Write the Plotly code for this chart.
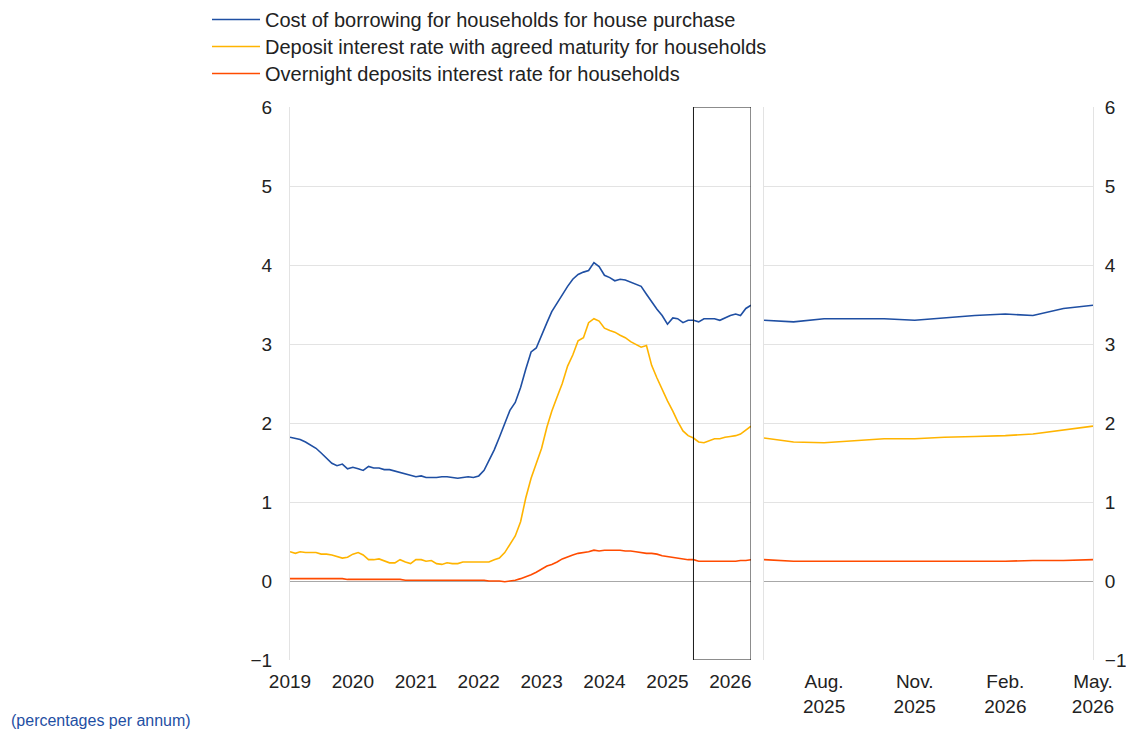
import pandas as pd
import plotly.graph_objects as go

# ---- data (monthly, Jan 2019 - May 2026) ----
start_month = "2019-01-01"
n_months = 89
zoom_start = "2025-06-01"

series_names = [
    "Cost of borrowing for households for house purchase",
    "Deposit interest rate with agreed maturity for households",
    "Overnight deposits interest rate for households",
]
series_colors = ["#1f4fa3", "#ffb400", "#ff4b00"]

cost_of_borrowing = [
    1.82, 1.80, 1.79, 1.76, 1.72, 1.68, 1.62, 1.55, 1.49, 1.46, 1.48, 1.42,
    1.44, 1.42, 1.40, 1.45, 1.43, 1.43, 1.41, 1.41, 1.39, 1.38, 1.36, 1.34,
    1.32, 1.33, 1.31, 1.31, 1.31, 1.32, 1.32, 1.31, 1.30, 1.31, 1.32, 1.31,
    1.33, 1.40, 1.52, 1.66, 1.82, 2.00, 2.16, 2.26, 2.45, 2.68, 2.90, 2.95,
    3.12, 3.27, 3.41, 3.52, 3.62, 3.73, 3.82, 3.88, 3.91, 3.93, 4.03, 3.98,
    3.87, 3.84, 3.80, 3.82, 3.81, 3.78, 3.75, 3.73, 3.63, 3.53, 3.44, 3.36,
    3.25, 3.33, 3.32, 3.27, 3.30, 3.30, 3.28, 3.32, 3.32, 3.32, 3.30, 3.33,
    3.36, 3.38, 3.36, 3.45, 3.49,
]
deposit_agreed_maturity = [
    0.37, 0.35, 0.37, 0.36, 0.36, 0.36, 0.34, 0.34, 0.33, 0.31, 0.29, 0.30,
    0.34, 0.36, 0.33, 0.27, 0.27, 0.28, 0.26, 0.23, 0.23, 0.27, 0.24, 0.22,
    0.27, 0.27, 0.25, 0.26, 0.22, 0.21, 0.23, 0.22, 0.22, 0.24, 0.24, 0.24,
    0.24, 0.24, 0.24, 0.27, 0.29, 0.36, 0.47, 0.57, 0.75, 1.05, 1.30, 1.50,
    1.68, 1.95, 2.15, 2.33, 2.50, 2.72, 2.86, 3.04, 3.08, 3.27, 3.32, 3.29,
    3.20, 3.17, 3.15, 3.11, 3.08, 3.03, 3.00, 2.96, 2.98, 2.73, 2.57, 2.42,
    2.28, 2.15, 2.02, 1.90, 1.84, 1.81, 1.76, 1.75, 1.78, 1.80, 1.80, 1.82,
    1.83, 1.84, 1.86, 1.91, 1.96,
]
overnight_deposits = [
    0.03, 0.03, 0.03, 0.03, 0.03, 0.03, 0.03, 0.03, 0.03, 0.03, 0.03, 0.02,
    0.02, 0.02, 0.02, 0.02, 0.02, 0.02, 0.02, 0.02, 0.02, 0.02, 0.01, 0.01,
    0.01, 0.01, 0.01, 0.01, 0.01, 0.01, 0.01, 0.01, 0.01, 0.01, 0.01, 0.01,
    0.01, 0.01, 0.00, 0.00, 0.00, -0.01, 0.00, 0.01, 0.03, 0.05, 0.08, 0.11,
    0.15, 0.19, 0.21, 0.24, 0.28, 0.31, 0.33, 0.35, 0.36, 0.37, 0.39, 0.38,
    0.39, 0.39, 0.39, 0.39, 0.38, 0.38, 0.37, 0.36, 0.35, 0.35, 0.34, 0.32,
    0.31, 0.30, 0.29, 0.28, 0.27, 0.27, 0.25, 0.25, 0.25, 0.25, 0.25, 0.25,
    0.25, 0.25, 0.26, 0.26, 0.27,
]

left_tick_vals = ["2019-01-01", "2020-01-01", "2021-01-01", "2022-01-01",
                  "2023-01-01", "2024-01-01", "2025-01-01", "2026-01-01"]
left_tick_text = ["2019", "2020", "2021", "2022", "2023", "2024", "2025", "2026"]
right_tick_vals = ["2025-08-01", "2025-11-01", "2026-02-01", "2026-05-01"]
right_tick_text = ["Aug.<br>2025", "Nov.<br>2025", "Feb.<br>2026", "May.<br>2026"]
y_ticks = [-1, 0, 1, 2, 3, 4, 5, 6]
y_tick_text = ["\u22121", "0", "1", "2", "3", "4", "5", "6"]

# ---- figure ----
dates = pd.date_range(start_month, periods=n_months, freq="MS")
zoom_mask = dates >= pd.Timestamp(zoom_start)
all_series = [cost_of_borrowing, deposit_agreed_maturity, overnight_deposits]

FONT = "Liberation Sans, Arial, sans-serif"
legend_ids = ["legend", "legend2", "legend3"]

fig = go.Figure()
for name, color, vals, lg in zip(series_names, series_colors, all_series, legend_ids):
    s = pd.Series(vals, index=dates)
    fig.add_trace(go.Scatter(x=dates, y=s.values, name=name, mode="lines",
                             line=dict(color=color, width=1.6), legend=lg,
                             xaxis="x", yaxis="y"))
for name, color, vals in zip(series_names, series_colors, all_series):
    s = pd.Series(vals, index=dates)[zoom_mask]
    fig.add_trace(go.Scatter(x=s.index, y=s.values, name=name, mode="lines",
                             line=dict(color=color, width=1.6), showlegend=False,
                             xaxis="x2", yaxis="y2"))

# the page has an 8px body margin: reference pixel coords are shifted by OFF
OFF = 8
W, H = 1134 - OFF, 732 - OFF
L, R, T, B = 290 - OFF, 1093 - OFF, 107 - OFF, 660 - OFF   # plot area
PW, PH = R - L, B - T


def px_x(x):
    return (x - OFF - L) / PW


def px_y(y):
    return (B - (y - OFF)) / PH


grid = "#e3e3e3"
tickfont = dict(family=FONT, size=19, color="#222222")
legfont = dict(family=FONT, size=20, color="#222222")

legends = {}
for lg, ytop in zip(legend_ids, [0, 27, 54]):
    legends[lg] = dict(x=px_x(207), y=px_y(ytop), xanchor="left", yanchor="top",
                       font=legfont, bgcolor="rgba(0,0,0,0)", itemwidth=48)

fig.update_layout(
    width=W, height=H,
    margin=dict(l=L, r=W - R, t=T, b=H - B, autoexpand=False),
    paper_bgcolor="white", plot_bgcolor="white",
    font=dict(family=FONT, size=19, color="#222222"),
    showlegend=True,
    **legends,
    xaxis=dict(domain=[0, px_x(751)], type="date", automargin=False,
               range=[dates[0], dates[-1]],
               tickvals=left_tick_vals, ticktext=left_tick_text,
               showgrid=False, zeroline=False, showline=False,
               ticks="", tickfont=tickfont, ticklabelstandoff=8),
    yaxis=dict(domain=[0, 1], range=[-1, 6], tickvals=y_ticks,
               ticktext=y_tick_text, automargin=False,
               showgrid=True, gridcolor=grid, gridwidth=1,
               zeroline=True, zerolinecolor="#a8a8a8", zerolinewidth=1,
               showline=True, linecolor=grid, linewidth=1,
               ticks="", tickfont=tickfont, ticklabelstandoff=13),
    xaxis2=dict(domain=[px_x(764), 1], type="date", anchor="y2",
                automargin=False,
                range=[dates[zoom_mask][0], dates[-1]],
                tickvals=right_tick_vals, ticktext=right_tick_text,
                showgrid=False, zeroline=False, showline=False,
                ticks="", tickfont=tickfont, ticklabelstandoff=8),
    yaxis2=dict(domain=[0, 1], range=[-1, 6], anchor="x2", side="right",
                tickvals=y_ticks, ticktext=y_tick_text, automargin=False,
                showgrid=True, gridcolor=grid, gridwidth=1,
                zeroline=True, zerolinecolor="#a8a8a8", zerolinewidth=1,
                showline=True, linecolor=grid, linewidth=1, mirror=True,
                ticks="", tickfont=tickfont, ticklabelstandoff=7),
)

# zoom rectangle on the left panel
fig.add_shape(type="rect", xref="x", yref="y",
              x0=dates[zoom_mask][0], x1=dates[-1], y0=-1, y1=6,
              line=dict(color="#1a1a1a", width=1), fillcolor="rgba(0,0,0,0)",
              layer="above")

fig.add_annotation(text="(percentages per annum)", xref="paper", yref="paper",
                   x=px_x(9), y=px_y(720), xanchor="left", yanchor="middle",
                   showarrow=False,
                   font=dict(family=FONT, size=16, color="#1f4fa3"))

fig.write_html("out.html")
